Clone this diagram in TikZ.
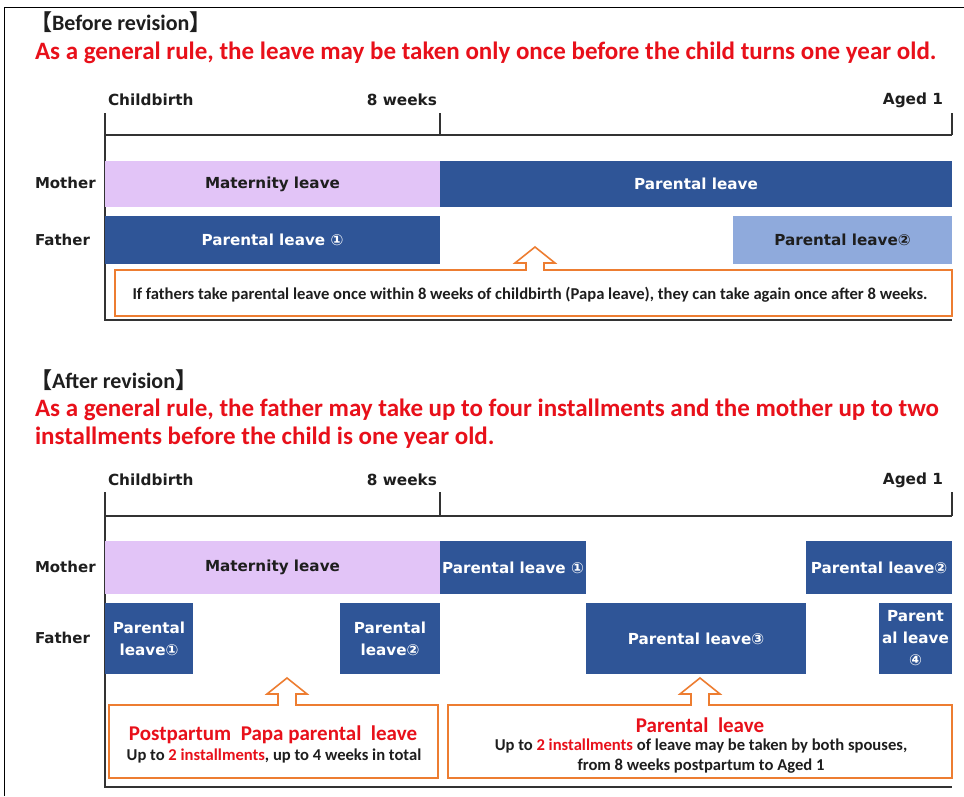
\documentclass[tikz,border=0pt]{standalone}
\usepackage{fontspec}
\setmainfont{Carlito}
\newfontfamily\dejafont{DejaVu Sans}
\newfontfamily\cjkfont{Noto Sans CJK JP}
\usetikzlibrary{positioning}
\definecolor{leaveblue}{HTML}{2F5597}
\definecolor{paleblue}{HTML}{8FAADC}
\definecolor{lilac}{HTML}{E2C4F7}
\definecolor{noteorange}{HTML}{ED7D31}
\definecolor{rulered}{HTML}{E8101A}
\definecolor{axisgray}{HTML}{333333}
\definecolor{inkgray}{HTML}{1E1E1E}
\newcommand{\bracketed}[1]{{\cjkfont 【}#1{\cjkfont 】}}
% callout frame with an up arrow: left, top, right, bottom, arrow x, tip y
\newcommand{\upcallout}[6]{%
	\filldraw[fill=white, draw=noteorange, line width=1.6pt, line join=miter]
		(#1,#2) -- (#5-9,#2) -- (#5-9,#6+16) -- (#5-20,#6+16) -- (#5,#6)
		-- (#5+20,#6+16) -- (#5+9,#6+16) -- (#5+9,#2) -- (#3,#2)
		-- (#3,#4) -- (#1,#4) -- cycle;
}

\begin{document}
\begin{tikzpicture}[x=1pt,y=-1pt,
	txt/.style={inner sep=0pt, outer sep=0pt, text=inkgray},
	heading/.style={txt, anchor=west, font=\bfseries\fontsize{22}{22}\selectfont},
	rule/.style={txt, anchor=west, align=left, text=rulered, font=\bfseries\fontsize{25}{28}\selectfont},
	timemark/.style={txt, font=\dejafont\bfseries\fontsize{15.3}{15.3}\selectfont},
	who/.style={txt, anchor=west, font=\dejafont\bfseries\fontsize{15}{15}\selectfont},
	bar/.style={txt, anchor=north west, align=center, text=white, font=\dejafont\bfseries\fontsize{15.2}{22}\selectfont},
	axis/.style={axisgray, line width=1.3pt},
	notetext/.style={txt, align=center, font=\bfseries\fontsize{16.6}{19.5}\selectfont},
	notetitle/.style={txt, text=rulered, font=\bfseries\fontsize{21}{21}\selectfont}]
	\useasboundingbox (0,0) rectangle (964,796);
	\fill[white] (0,0) rectangle (964,796);

	% outer frame (top and left edges only)
	\draw[black, line width=0.9pt] (964,7) -- (4,7) -- (4,796);

	% ---------------- before revision ----------------
	\node[heading] (headA) at (30,22) {\bracketed{Before revision}};
	\node[rule] (ruleA) at (35,53) {As a general rule, the leave may be taken only once before the child turns one year old.};

	\node[timemark, anchor=west] (birthA) at (108,100) {Childbirth};
	\node[timemark, anchor=east] (weeksA) at (437,100) {8 weeks};
	\node[timemark, anchor=east] (agedA) at (943,100) {Aged 1};
	\draw[axis] (105,113) -- (105,320) -- (952,320);
	\draw[axis] (105,135) -- (952,135);
	\draw[axis] (440,113) -- (440,135);
	\draw[axis] (952,113) -- (952,135);

	\node[who] (motherA) at (35,183) {Mother};
	\node[who] (fatherA) at (35,240) {Father};

	\node[bar, fill=lilac, text=inkgray, minimum width=335pt, minimum height=46pt] (matA) at (105,161) {Maternity leave};
	\node[bar, fill=leaveblue, minimum width=512pt, minimum height=46pt] (momA) at (440,161) {Parental leave};
	\node[bar, fill=leaveblue, minimum width=335pt, minimum height=48pt] (dadA1) at (105,216) {Parental leave ①};
	\node[bar, fill=paleblue, text=inkgray, minimum width=219pt, minimum height=48pt] (dadA2) at (733,216) {Parental leave②};

	\upcallout{115}{270}{952}{316}{535}{247}
	\node[notetext] (noteA) at (530,295) {If fathers take parental leave once within 8 weeks of childbirth (Papa leave), they can take again once after 8 weeks.};

	% ---------------- after revision ----------------
	\node[heading] (headB) at (30,380) {\bracketed{After revision}};
	\node[rule] (ruleB) at (35,424) {As a general rule, the father may take up to four installments and the mother up to two\\installments before the child is one year old.};

	\node[timemark, anchor=west] (birthB) at (108,480) {Childbirth};
	\node[timemark, anchor=east] (weeksB) at (437,480) {8 weeks};
	\node[timemark, anchor=east] (agedB) at (943,480) {Aged 1};
	\draw[axis] (105,492) -- (105,787) -- (952,787);
	\draw[axis] (105,516) -- (952,516);
	\draw[axis] (440,492) -- (440,516);
	\draw[axis] (952,492) -- (952,516);

	\node[who] (motherB) at (35,567) {Mother};
	\node[who] (fatherB) at (35,638) {Father};

	\node[bar, fill=lilac, text=inkgray, minimum width=335pt, minimum height=53pt] (matB) at (105,541) {Maternity leave};
	\node[bar, fill=leaveblue, minimum width=146pt, minimum height=53pt] (momB1) at (440,541) {Parental leave ①};
	\node[bar, fill=leaveblue, minimum width=146pt, minimum height=53pt] (momB2) at (806,541) {Parental leave②};

	\node[bar, fill=leaveblue, minimum width=88pt, minimum height=71pt] (dadB1) at (105,603) {Parental\\leave①};
	\node[bar, fill=leaveblue, minimum width=100pt, minimum height=71pt] (dadB2) at (340,603) {Parental\\leave②};
	\node[bar, fill=leaveblue, minimum width=220pt, minimum height=71pt] (dadB3) at (586,603) {Parental leave③};
	\node[bar, fill=leaveblue, minimum width=73pt, minimum height=71pt] (dadB4) at (879,603) {Parent\\al leave\\④};

	\upcallout{109}{705}{438}{778}{287}{678}
	\node[notetitle] (papaB) at (273,735) {Postpartum\ \ Papa parental\ \ leave};
	\node[notetext] (papaNote) at (274,756) {Up to {\color{rulered}2 installments}, up to 4 weeks in total};

	\upcallout{448}{705}{952}{778}{700}{678}
	\node[notetitle] (parB) at (700,725) {Parental\ \ leave};
	\node[notetext] (parNote) at (701,756) {Up to {\color{rulered}2 installments} of leave may be taken by both spouses,\\from 8 weeks postpartum to Aged 1};
\end{tikzpicture}
\end{document}
